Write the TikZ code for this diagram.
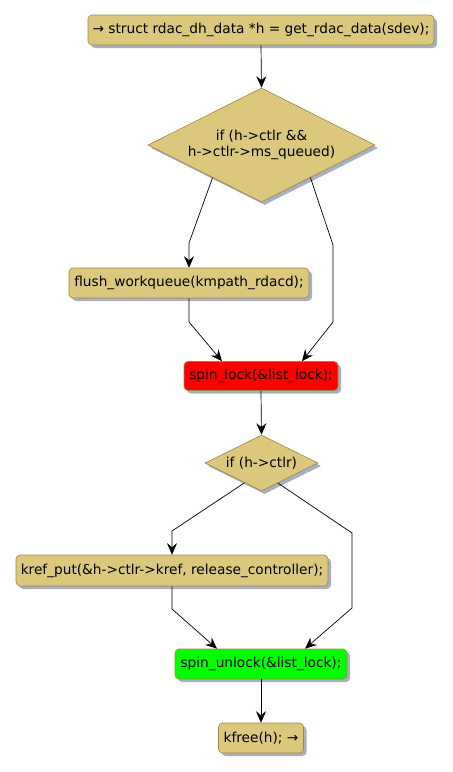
\documentclass[tikz,border=0pt]{standalone}
\usepackage{fontspec}
\setmainfont{DejaVu Sans}
\usetikzlibrary{shapes.geometric,shadows,arrows.meta,calc}
\definecolor{act}{RGB}{219,200,124}
\definecolor{actb}{RGB}{160,135,65}
\definecolor{shad}{RGB}{165,176,198}
\definecolor{lockred}{RGB}{255,0,0}
\definecolor{lockgreen}{RGB}{0,255,0}
\begin{document}
\begin{tikzpicture}[x=1pt,y=-1pt, font=\fontsize{13.7}{16.5}\selectfont,
  box/.style={draw=actb, fill=act, rounded corners=4pt, line width=0.6pt, inner sep=0pt,
    drop shadow={shadow xshift=3pt,shadow yshift=-3pt,fill=shad,opacity=1}},
  dec/.style={diamond, draw=actb, fill=act, line width=0.6pt, inner sep=0pt, aspect=2, align=center,
    drop shadow={shadow xshift=3pt,shadow yshift=-3pt,fill=shad,opacity=1}},
  arr/.style={-{Stealth[length=11.5pt,width=10pt,inset=4pt]}, line width=0.7pt},
]
\useasboundingbox (0,0) rectangle (453,772);

\node[box, minimum width=346pt, minimum height=30pt] (b1) at (261,30) {→ struct rdac\_dh\_data *h = get\_rdac\_data(sdev);};
\node[dec, minimum width=227pt, minimum height=114pt] (d1) at (261.5,145) {if (h->ctlr \&\&\\h->ctlr->ms\_queued)};
\node[box, minimum width=240pt, minimum height=30pt] (flush) at (189,283) {flush\_workqueue(kmpath\_rdacd);};
\node[box, fill=lockred, minimum width=154pt, minimum height=29pt] (lock) at (261,376) {spin\_lock(\&list\_lock);};
\node[dec, minimum width=113pt, minimum height=56pt] (d2) at (261.5,463) {if (h->ctlr)};
\node[box, minimum width=312pt, minimum height=31pt] (kref) at (172,570.5) {kref\_put(\&h->ctlr->kref, release\_controller);};
\node[box, fill=lockgreen, minimum width=172pt, minimum height=30pt] (unlock) at (261,664) {spin\_unlock(\&list\_lock);};
\node[box, minimum width=85pt, minimum height=30pt] (kfree) at (261,738) {kfree(h); →};

\coordinate (p1) at (189,243);
\coordinate (p2) at (333,245);
\coordinate (p3) at (333,322);
\coordinate (p4) at (189,322);
\coordinate (q1) at (172,531);
\coordinate (q2) at (352,533);
\coordinate (q3) at (352,608);
\coordinate (q4) at (172,609);

\draw[arr] (b1.south) -- (d1.north);
\draw[arr] ($(d1.west)!0.57!(d1.south)$) -- (p1) -- (flush.north);
\draw[arr] ($(d1.south)!0.43!(d1.east)$) -- (p2) -- (p3) -- ([xshift=41pt]lock.north);
\draw[arr] (flush.south) -- (p4) -- ([xshift=-39pt]lock.north);
\draw[arr] (lock.south) -- (d2.north);
\draw[arr] ($(d2.west)!0.7!(d2.south)$) -- (q1) -- (kref.north);
\draw[arr] ($(d2.south)!0.29!(d2.east)$) -- (q2) -- (q3) -- ([xshift=44pt]unlock.north);
\draw[arr] (kref.south) -- (q4) -- ([xshift=-44pt]unlock.north);
\draw[arr] (unlock.south) -- (kfree.north);
\end{tikzpicture}
\end{document}
